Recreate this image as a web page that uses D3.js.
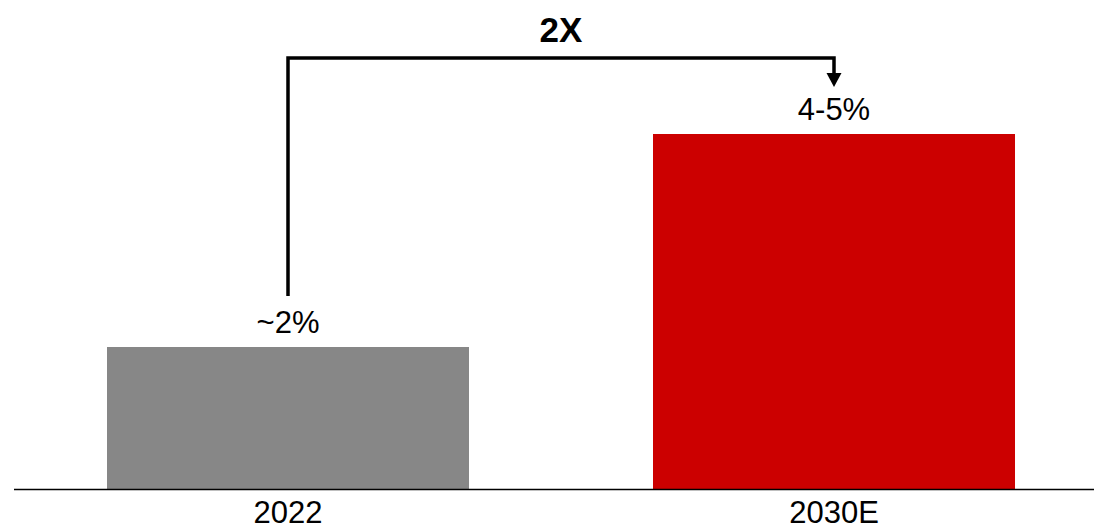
<!DOCTYPE html>
<html>
<head>
<meta charset="utf-8">
<script src="https://cdn.jsdelivr.net/npm/d3@7"></script>
<style>
  html, body { margin: 0; padding: 0; background: #fff; }
  svg { display: block; }
  text { font-family: "Liberation Sans", Arial, sans-serif; fill: #000; }
</style>
</head>
<body>
<svg id="chart" width="1094" height="524"></svg>
<script>
const categories = ["2022", "2030E"];
const values = [2, 5];
const valueLabels = ["~2%", "4-5%"];
const barColors = ["#878787", "#CC0000"];
const multiplierLabel = "2X";

const W = 1094, H = 524;
const svg = d3.select("#chart");

const x = d3.scaleBand()
  .domain(categories)
  .range([21, 1101])
  .paddingInner(0.337)
  .paddingOuter(0.1575);

const y = d3.scaleLinear()
  .domain([0, 5])
  .range([489, 134]);

// bars
svg.selectAll("rect.bar")
  .data(categories)
  .enter().append("rect")
  .attr("class", "bar")
  .attr("x", d => x(d))
  .attr("width", x.bandwidth())
  .attr("y", (d, i) => y(values[i]))
  .attr("height", (d, i) => y(0) - y(values[i]))
  .attr("fill", (d, i) => barColors[i]);

// baseline
svg.append("line")
  .attr("x1", 14).attr("x2", W)
  .attr("y1", y(0) + 0.5).attr("y2", y(0) + 0.5)
  .attr("stroke", "#000").attr("stroke-width", 1.5);

// category labels
svg.selectAll("text.cat")
  .data(categories)
  .enter().append("text")
  .attr("class", "cat")
  .attr("x", d => x(d) + x.bandwidth() / 2)
  .attr("y", 523)
  .attr("text-anchor", "middle")
  .attr("font-size", 31)
  .text(d => d);

// value labels
svg.selectAll("text.val")
  .data(categories)
  .enter().append("text")
  .attr("class", "val")
  .attr("x", d => x(d) + x.bandwidth() / 2)
  .attr("y", (d, i) => y(values[i]) - 14)
  .attr("text-anchor", "middle")
  .attr("font-size", 31)
  .text((d, i) => valueLabels[i]);

// growth bracket arrow
const cx0 = x(categories[0]) + x.bandwidth() / 2;
const cx1 = x(categories[1]) + x.bandwidth() / 2;
const topY = 58;
const startY = y(values[0]) - 51;
const tipY = y(values[1]) - 47;
const headH = 14, headW = 15;

svg.append("path")
  .attr("d", `M${cx0},${startY} L${cx0},${topY} L${cx1},${topY} L${cx1},${tipY - headH + 1}`)
  .attr("fill", "none")
  .attr("stroke", "#000")
  .attr("stroke-width", 3.5)
  .attr("stroke-linejoin", "miter");

svg.append("path")
  .attr("d", `M${cx1 - headW / 2},${tipY - headH} L${cx1 + headW / 2},${tipY - headH} L${cx1},${tipY} Z`)
  .attr("fill", "#000");

svg.append("text")
  .attr("x", (cx0 + cx1) / 2)
  .attr("y", 42)
  .attr("text-anchor", "middle")
  .attr("font-size", 35)
  .attr("font-weight", "bold")
  .text(multiplierLabel);
</script>
</body>
</html>
